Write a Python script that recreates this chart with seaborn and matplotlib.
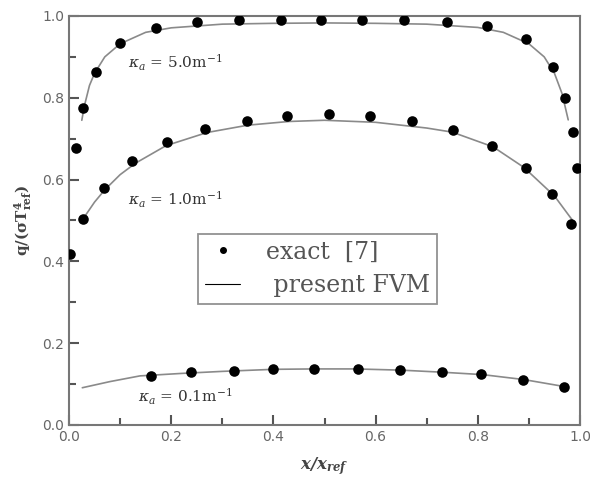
import matplotlib
matplotlib.use("Agg")
import matplotlib.pyplot as plt
import seaborn as sns
import pandas as pd
from matplotlib.lines import Line2D
from matplotlib.ticker import MultipleLocator

# exact solution points [7]
x_k50 = [0.013, 0.028, 0.053, 0.100, 0.170, 0.251, 0.332, 0.414, 0.493, 0.574,
         0.656, 0.739, 0.819, 0.894, 0.947, 0.971, 0.986, 0.995]
q_k50 = [0.676, 0.774, 0.862, 0.933, 0.971, 0.986, 0.990, 0.990, 0.990, 0.990,
         0.990, 0.985, 0.976, 0.943, 0.876, 0.799, 0.717, 0.628]

x_k10 = [0.002, 0.027, 0.068, 0.124, 0.191, 0.266, 0.348, 0.427, 0.509, 0.590,
         0.672, 0.752, 0.827, 0.894, 0.946, 0.982]
q_k10 = [0.418, 0.503, 0.579, 0.645, 0.691, 0.724, 0.744, 0.756, 0.760, 0.756,
         0.742, 0.721, 0.683, 0.629, 0.565, 0.491]

x_k01 = [0.160, 0.239, 0.323, 0.400, 0.480, 0.565, 0.648, 0.729, 0.806, 0.889, 0.969]
q_k01 = [0.120, 0.129, 0.132, 0.137, 0.138, 0.138, 0.134, 0.129, 0.124, 0.111, 0.094]

# present FVM curves
xf_k50 = [0.025, 0.03, 0.04, 0.05, 0.07, 0.10, 0.15, 0.20, 0.30, 0.40, 0.50,
          0.60, 0.70, 0.80, 0.85, 0.90, 0.93, 0.95, 0.965, 0.977]
qf_k50 = [0.745, 0.780, 0.830, 0.860, 0.900, 0.932, 0.960, 0.971, 0.980, 0.982, 0.983,
          0.982, 0.980, 0.972, 0.960, 0.932, 0.900, 0.860, 0.810, 0.746]

xf_k10 = [0.027, 0.05, 0.07, 0.10, 0.13, 0.19, 0.27, 0.35, 0.43, 0.50, 0.60,
          0.70, 0.75, 0.83, 0.89, 0.95, 0.985]
qf_k10 = [0.503, 0.545, 0.575, 0.612, 0.640, 0.683, 0.715, 0.733, 0.742, 0.745, 0.740,
          0.726, 0.716, 0.680, 0.630, 0.560, 0.501]

xf_k01 = [0.026, 0.08, 0.139, 0.22, 0.30, 0.40, 0.48, 0.56, 0.65, 0.73, 0.81, 0.89, 0.969]
qf_k01 = [0.091, 0.106, 0.120, 0.126, 0.131, 0.136, 0.137, 0.137, 0.134, 0.129, 0.123, 0.111, 0.094]

labels = [r"$\kappa_a$ = 5.0m$^{-1}$", r"$\kappa_a$ = 1.0m$^{-1}$", r"$\kappa_a$ = 0.1m$^{-1}$"]
label_pos = [(0.115, 0.885), (0.115, 0.55), (0.135, 0.068)]

exact = pd.concat([
    pd.DataFrame({"x": x_k50, "q": q_k50, "case": "5.0"}),
    pd.DataFrame({"x": x_k10, "q": q_k10, "case": "1.0"}),
    pd.DataFrame({"x": x_k01, "q": q_k01, "case": "0.1"}),
])
fvm = pd.concat([
    pd.DataFrame({"x": xf_k50, "q": qf_k50, "case": "5.0"}),
    pd.DataFrame({"x": xf_k10, "q": qf_k10, "case": "1.0"}),
    pd.DataFrame({"x": xf_k01, "q": qf_k01, "case": "0.1"}),
])

sns.set_style("ticks")
plt.rcParams["mathtext.fontset"] = "dejavuserif"
plt.rcParams["font.family"] = ["DejaVu Serif"]

fig = plt.figure(figsize=(5.9, 4.84), dpi=100)
ax = fig.add_axes([0.117, 0.122, 0.866, 0.845])

grey = "#8a8a8a"
for case in ["5.0", "1.0", "0.1"]:
    sns.lineplot(data=fvm[fvm["case"] == case], x="x", y="q", sort=False,
                 color=grey, linewidth=1.2, ax=ax, legend=False)
sns.scatterplot(data=exact, x="x", y="q", color="black", s=58,
                edgecolor="black", linewidth=0, ax=ax, legend=False, zorder=3)

for txt, (tx, ty) in zip(labels, label_pos):
    ax.text(tx, ty, txt, fontsize=11, color="#333333", va="center")

ax.set_xlim(0, 1.0)
ax.set_ylim(0, 1.0)
ax.xaxis.set_major_locator(MultipleLocator(0.2))
ax.yaxis.set_major_locator(MultipleLocator(0.2))
ax.xaxis.set_minor_locator(MultipleLocator(0.1))
ax.yaxis.set_minor_locator(MultipleLocator(0.1))
for axis in (ax.xaxis, ax.yaxis):
    axis.set_tick_params(which="both", direction="in", color="#555555", width=1.5)
    axis.set_tick_params(which="major", length=7, labelsize=10, labelcolor="#666666")
    axis.set_tick_params(which="minor", length=5)
for lab in ax.get_xticklabels() + ax.get_yticklabels():
    lab.set_family("DejaVu Sans")
for sp in ax.spines.values():
    sp.set_visible(True)
    sp.set_color("#777777")
    sp.set_linewidth(1.5)

ax.set_xlabel(r"$\mathbfit{x/x_{ref}}$", fontsize=12, color="#444444", labelpad=8)
ax.set_ylabel(r"$\mathbf{q/(\sigma T^4_{ref})}$", fontsize=11, color="#444444", labelpad=6)

handles = [
    Line2D([], [], marker="o", color="black", linestyle="none", markersize=4),
    Line2D([], [], color="black", linewidth=0.8),
]
leg = ax.legend(handles, ["exact  [7]", " present FVM"], loc="lower left",
                bbox_to_anchor=(0.252, 0.295), fontsize=17, frameon=True,
                fancybox=False, edgecolor="#777777", handlelength=1.5,
                borderpad=0.3, labelspacing=0.45, handletextpad=1.1,
                borderaxespad=0)
leg.get_frame().set_linewidth(1.3)
for t in leg.get_texts():
    t.set_color("#555555")

fig.savefig("out.png", dpi=100)
